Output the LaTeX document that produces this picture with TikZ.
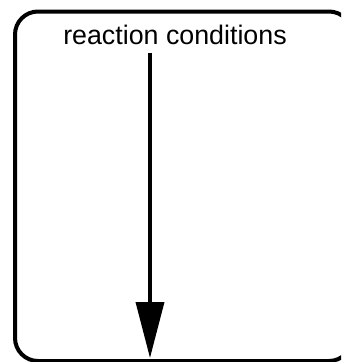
\documentclass[tikz,border=0pt]{standalone}
\usepackage{fontspec}
\setmainfont{Liberation Sans}
\usetikzlibrary{arrows.meta}
\tikzset{
  frame/.style={draw=black, line width=4pt, rounded corners=23pt},
  label/.style={font=\fontsize{26.8pt}{30pt}\selectfont, inner sep=0pt, anchor=base},
  flow/.style={draw=black, line width=3.6pt, -{Triangle[length=56pt,width=28pt]}}
}
\begin{document}
\begin{tikzpicture}[x=1pt,y=-1pt]
  \clip (0,0) rectangle (341,362);
  \draw[frame] (15,11.5) rectangle (352,361);
  \node[label] (lbl) at (175,44) {reaction conditions};
  \coordinate (start) at (150,53);
  \coordinate (end) at (150,358);
  \draw[flow] (start) -- (end);
\end{tikzpicture}
\end{document}
